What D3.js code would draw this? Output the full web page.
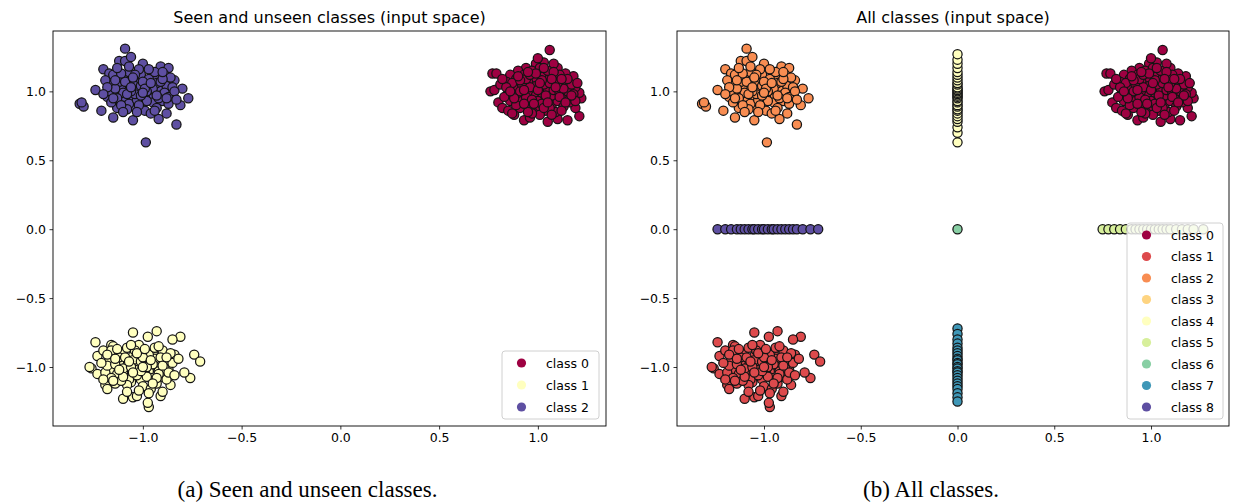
<!DOCTYPE html>
<html><head><meta charset="utf-8">
<script src="https://cdn.jsdelivr.net/npm/d3@7"></script>
<style>
html,body{margin:0;padding:0;background:#fff;}
svg{display:block;}
</style></head>
<body>
<svg id="chart" width="1233" height="502"></svg>
<script>
// ---------------- DATA ----------------
const tickValues = [-1.0, -0.5, 0.0, 0.5, 1.0];
const titles = ["Seen and unseen classes (input space)", "All classes (input space)"];
const captions = ["(a) Seen and unseen classes.", "(b) All classes."];
const seenLabels = ["class 0", "class 1", "class 2"];
const allLabels = ["class 0","class 1","class 2","class 3","class 4","class 5","class 6","class 7","class 8"];
const seenColors = ["#9e0142", "#ffffbf", "#5e4fa2"];
const allColors = ["#9e0142","#dd4a4c","#f88d52","#fed481","#ffffbf","#d7ef9b","#88cfa4","#3f97b7","#5e4fa2"];

// blob around (+1,+1)
const blobTopRight = [
[1.06,1.30],[0.77,1.13],[0.79,1.13],[0.76,1.00],[0.78,1.01],[0.80,0.92],[0.82,0.88],[0.85,0.86],[0.88,0.83],[0.93,0.79],
[0.96,0.81],[1.05,0.78],[1.10,0.80],[1.15,0.79],[1.21,0.82],[1.19,0.88],[1.22,0.95],[1.21,0.99],[1.19,1.03],[1.18,1.11],
[1.14,1.13],[1.10,1.17],[1.08,1.20],[1.03,1.21],[0.99,1.20],[0.94,1.17],[0.90,1.15],[0.86,1.12],[0.84,1.07],[0.81,1.05],
[0.88,1.02],[0.90,0.97],[0.92,0.93],[0.95,0.90],[0.98,0.87],[1.01,0.89],[1.04,0.86],[1.07,0.90],[1.10,0.93],[1.13,0.96],
[1.15,1.00],[1.12,1.04],[1.09,1.08],[1.06,1.11],[1.02,1.13],[0.98,1.10],[0.95,1.07],[0.92,1.05],[0.89,1.09],[0.93,1.12],
[0.97,1.15],[1.01,1.17],[1.05,1.15],[1.11,1.12],[1.14,1.07],[1.17,1.05],[1.16,0.94],[1.13,0.89],[1.09,0.85],[1.01,0.83],
[0.97,0.84],[0.91,0.88],[0.86,0.93],[0.85,0.99],[0.87,1.06],[0.96,1.00],[0.99,0.97],[1.02,0.99],[1.05,1.02],[1.03,1.05],
[0.99,1.04],[0.96,1.03],[1.00,0.93],[1.04,0.94],[1.07,0.97],[1.08,1.01],[1.06,1.06],[0.94,0.96],[0.91,1.00],[1.00,1.01],
[1.02,0.91],[0.97,0.94],[1.11,0.99],[1.13,1.02],[0.89,0.90],[1.06,0.88],[0.94,1.09],[1.10,1.06],[1.18,0.98],[1.16,0.92],
[0.83,0.96],[0.87,0.84],[1.02,1.08],[1.08,1.14],[0.93,1.01],[1.12,0.86],[0.96,1.12],[1.04,0.97],[1.19,0.93],[1.00,1.24],
[0.84,1.03],[0.88,0.95],[0.91,1.08],[0.95,0.85],[0.99,1.13],[1.03,0.88],[1.07,1.09],[1.11,0.96],[1.15,1.09],[1.17,0.97],
[0.86,1.00],[0.90,1.11],[0.98,0.91],[1.05,0.92],[1.09,1.03],[1.14,0.92],[1.03,1.17],[0.93,0.91],[1.01,1.06],[0.82,1.09],
[1.20,1.06],[1.07,0.83],[0.95,1.14],[1.12,1.09]
];
// blob around (-1,-1)
const blobBottomLeft = [
[-1.05,-0.75],[-0.93,-0.74],[-0.975,-0.78],[-0.81,-0.78],[-0.85,-0.80],[-1.24,-0.82],[-0.74,-0.91],[-0.71,-0.96],[-0.76,-1.08],[-0.79,-1.04],
[-1.26,-1.01],[-1.27,-1.00],[-1.10,-1.23],[-0.97,-1.29],[-0.975,-1.26],[-0.91,-1.21],[-0.90,-1.18],[-1.19,-1.13],[-1.18,-1.16],[-1.05,-1.22],
[-1.03,-1.21],[-1.23,-0.92],[-1.20,-0.88],[-1.16,-0.84],[-1.15,-0.85],[-0.84,-0.91],[-0.86,-1.13],[-1.23,-1.05],
[-1.17,-0.95],[-1.15,-1.02],[-1.13,-1.07],[-1.11,-0.90],[-1.09,-0.98],[-1.07,-1.05],[-1.05,-0.92],[-1.03,-1.01],[-1.01,-1.09],[-0.99,-0.95],
[-0.97,-1.03],[-0.95,-0.90],[-0.93,-0.99],[-0.91,-1.07],[-0.89,-0.96],[-0.87,-1.02],[-1.16,-0.88],[-1.14,-1.12],[-1.12,-0.96],[-1.10,-1.04],
[-1.08,-0.86],[-1.06,-1.11],[-1.04,-0.98],[-1.02,-0.88],[-1.00,-1.14],[-0.98,-0.99],[-0.96,-1.08],[-0.94,-0.94],[-0.92,-1.03],[-0.90,-0.88],
[-0.88,-1.09],[-1.19,-1.04],[-1.18,-0.99],[-1.12,-0.93],[-1.10,-1.01],[-1.07,-1.09],[-1.05,-0.95],[-1.03,-1.06],[-1.01,-0.96],[-0.99,-1.04],
[-0.97,-0.91],[-0.95,-0.98],[-0.93,-1.12],[-0.91,-0.93],[-0.89,-1.01],[-0.85,-0.97],[-1.14,-0.98],[-1.09,-0.93],[-1.04,-1.02],[-0.98,-1.00],
[-1.02,-0.84],[-1.08,-1.13],[-0.96,-1.16],[-1.13,-1.05],[-0.94,-0.86],[-1.06,-1.00],[-1.00,-0.93],[-0.92,-1.05],[-1.11,-1.10],[-1.16,-1.08],
[-0.86,-0.90],[-1.04,-0.88],[-0.98,-1.07],[-1.01,-1.03],[-0.87,-1.04],[-1.21,-0.97],
[-1.18,-0.91],[-1.14,-0.94],[-1.10,-1.07],[-1.07,-0.96],[-1.03,-0.90],[-1.00,-1.00],[-0.96,-0.95],[-0.93,-1.08],[-0.90,-0.99],[-0.88,-0.93],
[-1.12,-1.02],[-1.08,-1.18],[-1.02,-1.17],[-0.95,-1.12],[-0.92,-0.85],[-1.06,-0.84],[-1.15,-1.10],[-0.99,-0.87],[-1.20,-1.09],[-0.84,-1.06],
[-0.82,-0.94],[-1.13,-0.87],[-0.97,-1.19],[-1.05,-1.04]
];
// blob around (-1,+1)
const blobTopLeft = [
[-1.09,1.31],[-0.985,0.63],[-1.32,0.91],[-1.30,0.89],[-1.31,0.92],[-0.77,0.95],[-1.24,1.01],[-1.20,1.16],[-1.12,1.22],[-1.09,1.22],
[-1.00,1.20],[-0.91,1.18],[-0.87,1.17],[-0.80,1.02],[-0.83,0.76],[-0.92,0.80],[-1.05,0.79],[-1.15,0.81],[-1.21,0.86],[-1.17,1.13],
[-1.06,1.25],[-0.95,1.14],[-0.84,1.08],[-0.81,0.90],[-0.88,0.84],
[-1.16,1.05],[-1.14,0.98],[-1.12,0.93],[-1.10,1.10],[-1.08,1.02],[-1.06,0.95],[-1.04,1.08],[-1.02,0.99],[-1.00,0.91],[-0.98,1.05],
[-0.96,0.97],[-0.94,1.10],[-0.92,1.01],[-0.90,0.93],[-0.88,1.04],[-0.86,0.98],[-1.15,1.12],[-1.13,0.88],[-1.11,1.04],[-1.09,0.96],
[-1.07,1.14],[-1.05,0.89],[-1.03,1.02],[-1.01,1.12],[-0.99,0.86],[-0.97,1.01],[-0.95,0.92],[-0.93,1.06],[-0.91,0.97],[-0.89,1.12],
[-0.87,0.91],[-1.18,0.96],[-1.17,1.00],[-1.12,1.07],[-1.10,0.99],[-1.07,0.91],[-1.05,1.05],[-1.03,0.94],[-1.01,1.04],[-0.99,0.96],
[-0.97,1.09],[-0.95,1.02],[-0.93,0.88],[-0.91,1.07],[-0.89,0.99],[-0.85,1.03],[-1.14,1.02],[-1.09,1.07],[-1.04,0.98],[-0.98,1.00],
[-1.02,1.16],[-1.08,0.87],[-0.96,0.84],[-1.13,0.95],[-0.94,1.14],[-1.06,1.00],[-1.00,1.07],[-0.92,0.95],[-1.11,0.90],[-1.16,0.92],
[-0.86,1.10],[-1.04,1.12],[-0.98,0.93],[-1.01,0.97],[-1.19,1.08],[-0.87,0.96],
[-1.18,1.03],[-1.15,0.95],[-1.11,1.13],[-1.08,0.98],[-1.05,1.10],[-1.02,0.90],[-0.99,1.02],[-0.96,1.06],[-0.93,0.97],[-0.90,1.09],
[-0.88,0.95],[-1.13,1.17],[-1.07,1.18],[-0.97,1.16],[-0.90,1.14],[-1.03,0.85],[-0.94,0.86],[-1.10,0.85],[-1.20,0.98],[-0.84,1.00],
[-0.83,0.94],[-1.14,1.08],[-1.00,0.99],[-1.06,1.03]
];
// projected points (right panel)
const upperColumnY = [0.63,0.70,0.74,0.78,0.80,0.82,0.84,0.86,0.87,0.89,0.90,0.92,0.93,0.95,0.96,0.97,0.98,0.99,1.00,1.01,1.02,1.03,1.05,1.06,1.08,1.10,1.12,1.14,1.17,1.20,1.23,1.27];
const lowerColumnY = [-0.72,-0.76,-0.80,-0.83,-0.86,-0.88,-0.90,-0.92,-0.94,-0.95,-0.97,-0.98,-1.00,-1.01,-1.03,-1.04,-1.06,-1.08,-1.10,-1.12,-1.14,-1.16,-1.19,-1.22,-1.25];
const leftRowX = [-1.24,-1.20,-1.17,-1.14,-1.12,-1.10,-1.08,-1.06,-1.05,-1.03,-1.01,-1.00,-0.98,-0.96,-0.95,-0.93,-0.91,-0.89,-0.87,-0.85,-0.83,-0.80,-0.76,-0.72];
const rightRowX = [0.75,0.78,0.81,0.84,0.87,0.90,0.92,0.94,0.96,0.98,1.00,1.02,1.04,1.06,1.08,1.10,1.13,1.16,1.19,1.22,1.27];
const centerPoint = [[0.0, 0.0]];

// ---------------- LAYOUT ----------------
const svg = d3.select("#chart");
const yTop = 31, yBottom = 426;
const yDomain = [-1.428, 1.438];
const panels = [
  {x0: 53, x1: 606, xDomain: [-1.455, 1.345], title: titles[0], caption: captions[0],
   classes: [blobTopRight, blobBottomLeft, blobTopLeft], colors: seenColors, labels: seenLabels,
   legend: {x: 502, y: 351, w: 97, h: 68, row0: 363, step: 22}},
  {x0: 677, x1: 1229, xDomain: [-1.4496, 1.403], title: titles[1], caption: captions[1],
   classes: [blobTopRight, blobBottomLeft, blobTopLeft, [],
             upperColumnY.map(v => [0, v]), rightRowX.map(v => [v, 0]), centerPoint,
             lowerColumnY.map(v => [0, v]), leftRowX.map(v => [v, 0])],
   colors: allColors, labels: allLabels,
   legend: {x: 1127, y: 223, w: 96, h: 196, row0: 235, step: 21.5}}
];
const fmt = d3.format(".1f");
const sans = "'DejaVu Sans', sans-serif";

panels.forEach(p => {
  const x = d3.scaleLinear().domain(p.xDomain).range([p.x0, p.x1]);
  const y = d3.scaleLinear().domain(yDomain).range([yBottom, yTop]);
  const g = svg.append("g");

  // points
  p.classes.forEach((pts, ci) => {
    g.append("g").selectAll("circle").data(pts).join("circle")
      .attr("cx", d => x(d[0])).attr("cy", d => y(d[1])).attr("r", 4.6)
      .attr("fill", p.colors[ci]).attr("stroke", "#141414").attr("stroke-width", 1.25);
  });

  // axes
  const xa = g.append("g").attr("transform", `translate(0,${yBottom})`)
    .call(d3.axisBottom(x).tickValues(tickValues).tickFormat(fmt).tickSize(3.5).tickPadding(3.5));
  const ya = g.append("g").attr("transform", `translate(${p.x0},0)`)
    .call(d3.axisLeft(y).tickValues(tickValues).tickFormat(fmt).tickSize(3.5).tickPadding(3.5));
  [xa, ya].forEach(a => {
    a.select(".domain").remove();
    a.selectAll("line").attr("stroke", "#000").attr("stroke-width", 0.8);
    a.selectAll("text").style("font-family", sans).style("font-size", "12.5px").attr("fill", "#000");
  });

  // frame
  g.append("rect").attr("x", p.x0).attr("y", yTop).attr("width", p.x1 - p.x0).attr("height", yBottom - yTop)
    .attr("fill", "none").attr("stroke", "#000").attr("stroke-width", 0.9);

  // title
  g.append("text").attr("x", (p.x0 + p.x1) / 2).attr("y", 22.5).attr("text-anchor", "middle")
    .style("font-family", sans).style("font-size", "16px").attr("fill", "#000").text(p.title);

  // legend
  const L = p.legend;
  const lg = g.append("g");
  lg.append("rect").attr("x", L.x).attr("y", L.y).attr("width", L.w).attr("height", L.h)
    .attr("rx", 3).attr("fill", "#fff").attr("fill-opacity", 0.8).attr("stroke", "#d0d0d0").attr("stroke-width", 1);
  p.labels.forEach((lab, i) => {
    const cy = L.row0 + i * L.step;
    lg.append("circle").attr("cx", L.x + 19.5).attr("cy", cy).attr("r", 4.6).attr("fill", p.colors[i]);
    lg.append("text").attr("x", L.x + 44).attr("y", cy + 4.5)
      .style("font-family", sans).style("font-size", "12.5px").attr("fill", "#000").text(lab);
  });

  // caption
  svg.append("text").attr("x", (p.x0 + p.x1) / 2 - 22).attr("y", 497).attr("text-anchor", "middle")
    .style("font-family", "'Liberation Serif', 'Times New Roman', serif").style("font-size", "23px")
    .attr("fill", "#000").text(p.caption);
});
</script>
</body></html>
